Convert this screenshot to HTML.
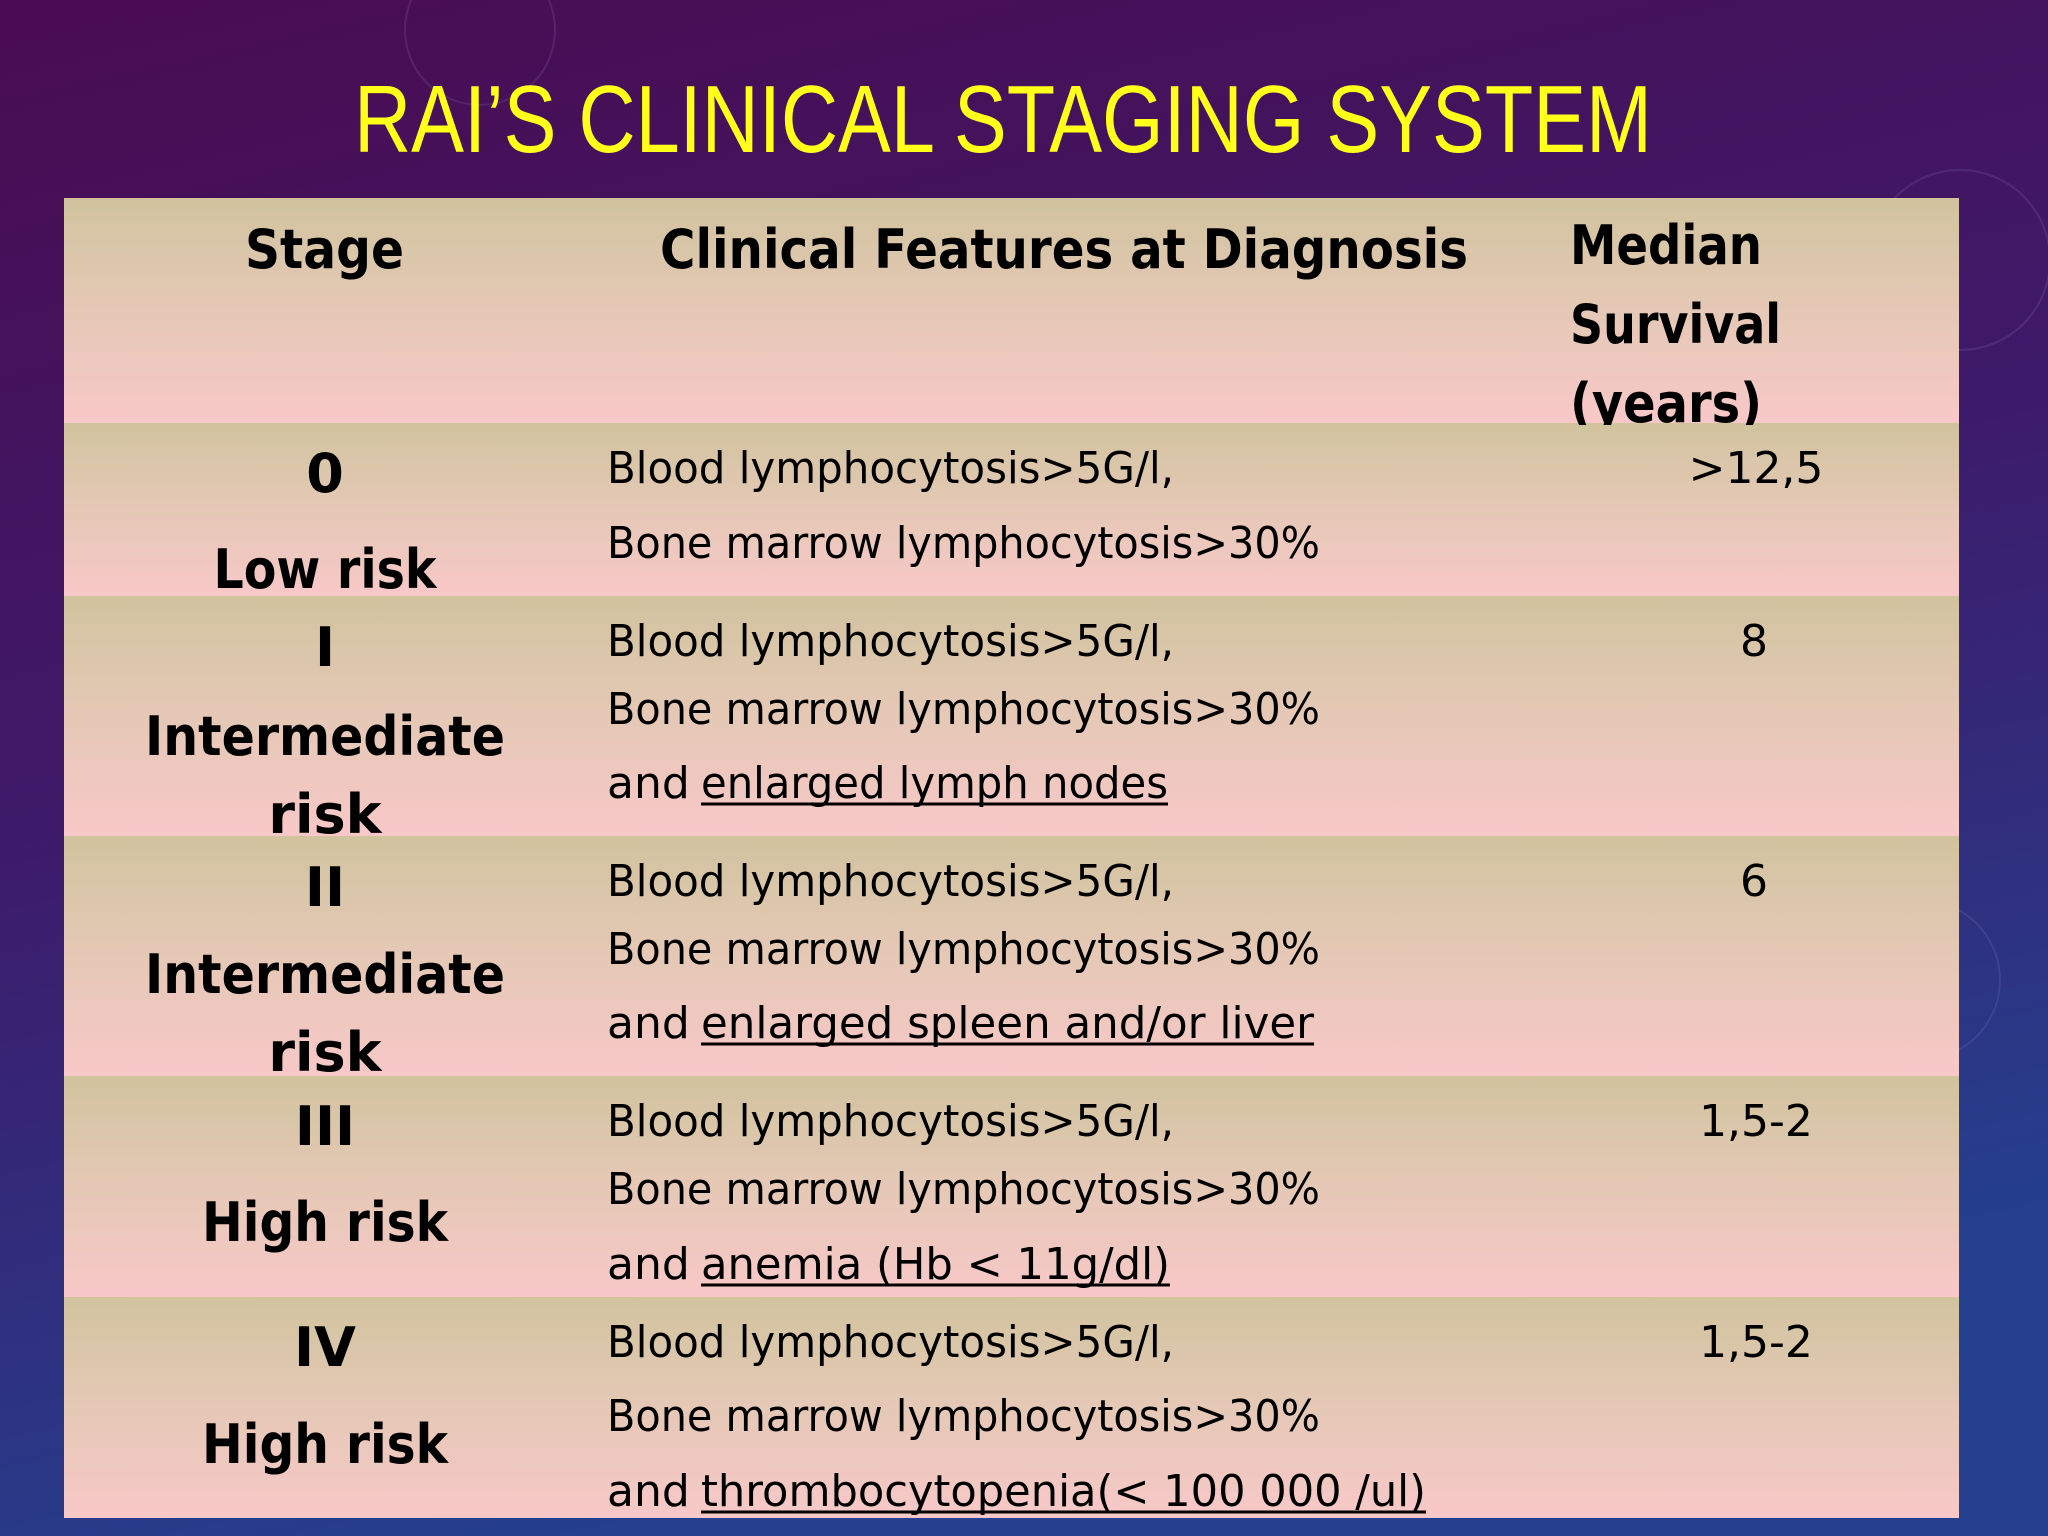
<!DOCTYPE html>
<html><head><meta charset="utf-8"><style>
html,body{margin:0;padding:0;width:2048px;height:1536px;overflow:hidden;}
svg{display:block}
.t{font-family:"DejaVu Sans","Liberation Sans",sans-serif;fill:#000;}
.b{font-weight:bold;font-size:54px;}
.s{font-size:44px;}
</style></head><body>
<svg width="2048" height="1536" viewBox="0 0 2048 1536" xmlns="http://www.w3.org/2000/svg">
<defs>
<linearGradient id="bg" x1="0" y1="0" x2="0.3" y2="1">
<stop offset="0" stop-color="#4a0c52"/><stop offset="0.5" stop-color="#3e1a6a"/><stop offset="1" stop-color="#24408e"/>
</linearGradient>
<linearGradient id="row" x1="0" y1="0" x2="0" y2="1">
<stop offset="0" stop-color="#d1c39e"/><stop offset="0.45" stop-color="#e3c8b4"/><stop offset="1" stop-color="#f8c8c8"/>
</linearGradient>
<clipPath id="hc"><rect x="64" y="198" width="1895" height="227"/></clipPath>
</defs>
<rect width="2048" height="1536" fill="url(#bg)"/>
<g fill="none" stroke="#8a7ab8" stroke-opacity="0.2" stroke-width="2">
<circle cx="480" cy="30" r="75"/>
<circle cx="1960" cy="260" r="90"/>
<circle cx="1920" cy="980" r="80"/>
</g>
<text x="1003" y="152" text-anchor="middle" font-family="Liberation Sans Narrow, Liberation Sans, sans-serif" font-size="96" fill="#ffff1a" textLength="1298" lengthAdjust="spacingAndGlyphs">RAI’S CLINICAL STAGING SYSTEM</text>
<rect x="64" y="198" width="1895" height="225" fill="url(#row)"/>
<rect x="64" y="423" width="1895" height="173" fill="url(#row)"/>
<rect x="64" y="596" width="1895" height="240" fill="url(#row)"/>
<rect x="64" y="836" width="1895" height="240" fill="url(#row)"/>
<rect x="64" y="1076" width="1895" height="221" fill="url(#row)"/>
<rect x="64" y="1297" width="1895" height="221" fill="url(#row)"/>
<g class="t b">
<text x="245" y="268" textLength="159" lengthAdjust="spacingAndGlyphs">Stage</text>
<text x="660" y="268" textLength="808" lengthAdjust="spacingAndGlyphs">Clinical Features at Diagnosis</text>
<text x="1570" y="264" textLength="192" lengthAdjust="spacingAndGlyphs">Median</text>
<text x="1570" y="343" textLength="211" lengthAdjust="spacingAndGlyphs">Survival</text>
<text x="1570" y="422" textLength="192" lengthAdjust="spacingAndGlyphs" clip-path="url(#hc)">(years)</text>
</g>
<g class="t b" text-anchor="middle">
<text x="325" y="492">0</text>
<text x="325" y="588" textLength="223" lengthAdjust="spacingAndGlyphs">Low risk</text>
<text x="325" y="666">I</text>
<text x="325" y="755" textLength="360" lengthAdjust="spacingAndGlyphs">Intermediate</text>
<text x="325" y="833">risk</text>
<text x="325" y="906">II</text>
<text x="325" y="993" textLength="360" lengthAdjust="spacingAndGlyphs">Intermediate</text>
<text x="325" y="1071">risk</text>
<text x="325" y="1145">III</text>
<text x="325" y="1241" textLength="246" lengthAdjust="spacingAndGlyphs">High risk</text>
<text x="325" y="1366">IV</text>
<text x="325" y="1463" textLength="246" lengthAdjust="spacingAndGlyphs">High risk</text>
</g>
<g class="t s">
<text x="607" y="483" textLength="567" lengthAdjust="spacingAndGlyphs">Blood lymphocytosis&gt;5G/l,</text>
<text x="607" y="558" textLength="713" lengthAdjust="spacingAndGlyphs">Bone marrow lymphocytosis&gt;30%</text>
<text x="607" y="656" textLength="567" lengthAdjust="spacingAndGlyphs">Blood lymphocytosis&gt;5G/l,</text>
<text x="607" y="724" textLength="713" lengthAdjust="spacingAndGlyphs">Bone marrow lymphocytosis&gt;30%</text>
<text x="607" y="798">and</text>
<text x="701" y="798" textLength="467" lengthAdjust="spacingAndGlyphs">enlarged lymph nodes</text>
<text x="607" y="896" textLength="567" lengthAdjust="spacingAndGlyphs">Blood lymphocytosis&gt;5G/l,</text>
<text x="607" y="964" textLength="713" lengthAdjust="spacingAndGlyphs">Bone marrow lymphocytosis&gt;30%</text>
<text x="607" y="1038">and</text>
<text x="701" y="1038" textLength="613" lengthAdjust="spacingAndGlyphs">enlarged spleen and/or liver</text>
<text x="607" y="1136" textLength="567" lengthAdjust="spacingAndGlyphs">Blood lymphocytosis&gt;5G/l,</text>
<text x="607" y="1204" textLength="713" lengthAdjust="spacingAndGlyphs">Bone marrow lymphocytosis&gt;30%</text>
<text x="607" y="1279">and</text>
<text x="701" y="1279" textLength="469" lengthAdjust="spacingAndGlyphs">anemia (Hb &lt; 11g/dl)</text>
<text x="607" y="1357" textLength="567" lengthAdjust="spacingAndGlyphs">Blood lymphocytosis&gt;5G/l,</text>
<text x="607" y="1431" textLength="713" lengthAdjust="spacingAndGlyphs">Bone marrow lymphocytosis&gt;30%</text>
<text x="607" y="1506">and</text>
<text x="701" y="1506" textLength="725" lengthAdjust="spacingAndGlyphs">thrombocytopenia(&lt; 100 000 /ul)</text>
</g>
<g stroke="#000" stroke-width="3">
<line x1="701" y1="804" x2="1168" y2="804"/>
<line x1="701" y1="1044" x2="1314" y2="1044"/>
<line x1="701" y1="1285" x2="1170" y2="1285"/>
<line x1="701" y1="1512" x2="1426" y2="1512"/>
</g>
<g class="t s" text-anchor="middle">
<text x="1756" y="483">&gt;12,5</text>
<text x="1754" y="656">8</text>
<text x="1754" y="896">6</text>
<text x="1756" y="1136">1,5-2</text>
<text x="1756" y="1357">1,5-2</text>
</g>
</svg>
</body></html>
